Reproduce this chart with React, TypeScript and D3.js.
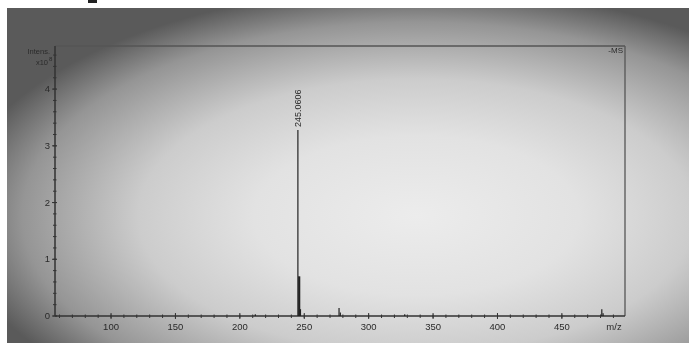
import React from "react";
import * as d3 from "d3";

const peakMz = [245.0606, 246.06, 247.06, 277.0, 278.0, 481.0, 482.0, 212.0, 328.0];
const peakIntensity = [3.28, 0.7, 0.12, 0.14, 0.06, 0.12, 0.05, 0.03, 0.03];
const xTicks = [100, 150, 200, 250, 300, 350, 400, 450];
const yTicks = [0, 1, 2, 3, 4];
const labelMz = "245.0606";

export default function App() {
  const W = 689, H = 345;
  const left = 55, right = 625, top = 46, bottom = 316;
  const x = d3.scaleLinear().domain([56.5, 499]).range([left, right]);
  const y = d3.scaleLinear().domain([0, 4.76]).range([bottom, top]);
  const xMinor = d3.range(60, 500, 10);
  const yMinor = d3.range(0, 4.7, 0.2);
  const txt = "#2a2a2a";
  const font = "Liberation Sans, Arial, sans-serif";
  return (
    <svg width={W} height={H} style={{ position: "absolute", left: 0, top: 0 }}>
      <defs>
        <radialGradient id="vig" cx="0.6" cy="0.62" r="0.68">
          <stop offset="0" stopColor="#ececec" />
          <stop offset="0.35" stopColor="#e2e2e2" />
          <stop offset="0.6" stopColor="#cccccc" />
          <stop offset="0.85" stopColor="#959595" />
          <stop offset="1" stopColor="#5a5a5a" />
        </radialGradient>
        <filter id="blur"><feGaussianBlur stdDeviation="0.5" /></filter>
      </defs>
      <rect x={0} y={0} width={W} height={H} fill="#ffffff" />
      <rect x={7} y={8} width={W - 7} height={335} fill="url(#vig)" />
      <rect x={88} y={0} width={9} height={3} fill="#222" />
      <g filter="url(#blur)">
        {/* frame */}
        <line x1={left} y1={top} x2={right} y2={top} stroke="#555" strokeWidth={1.3} />
        <line x1={right} y1={top} x2={right} y2={bottom} stroke="#555" strokeWidth={1.3} />
        <line x1={left} y1={top} x2={left} y2={bottom} stroke="#333" strokeWidth={1.5} />
        <line x1={left} y1={bottom} x2={right} y2={bottom} stroke="#333" strokeWidth={1.6} />
        {/* x ticks */}
        {xMinor.map((v) => (
          <line key={"xm" + v} x1={x(v)} x2={x(v)} y1={bottom - 1.5} y2={bottom + 2} stroke="#333" strokeWidth={1} />
        ))}
        {xTicks.map((v) => (
          <g key={"xt" + v}>
            <line x1={x(v)} x2={x(v)} y1={bottom - 3} y2={bottom + 3} stroke="#333" strokeWidth={1} />
            <text x={x(v)} y={bottom + 14} textAnchor="middle" fontSize={9.5} fontFamily={font} fill={txt}>{v}</text>
          </g>
        ))}
        <text x={614} y={bottom + 14} textAnchor="middle" fontSize={9.5} fontFamily={font} fill={txt}>m/z</text>
        {/* y ticks */}
        {yMinor.map((v, i) => (
          <line key={"ym" + i} x1={left - 2} x2={left + 1.5} y1={y(v)} y2={y(v)} stroke="#333" strokeWidth={1} />
        ))}
        {yTicks.map((v) => (
          <g key={"yt" + v}>
            <line x1={left - 3} x2={left + 2} y1={y(v)} y2={y(v)} stroke="#333" strokeWidth={1} />
            <text x={left - 5} y={y(v) + 3} textAnchor="end" fontSize={9.5} fontFamily={font} fill={txt}>{v}</text>
          </g>
        ))}
        <text x={50} y={54} textAnchor="end" fontSize={7.5} fontFamily={font} fill={txt}>Intens.</text>
        <text x={48} y={65} textAnchor="end" fontSize={7.5} fontFamily={font} fill={txt}>x10</text>
        <text x={49} y={61} textAnchor="start" fontSize={6} fontFamily={font} fill={txt}>8</text>
        <text x={623} y={53} textAnchor="end" fontSize={8} fontFamily={font} fill={txt}>-MS</text>
        {/* peaks */}
        {peakMz.map((m, i) => (
          <line key={"p" + i} x1={x(m)} x2={x(m)} y1={bottom} y2={y(peakIntensity[i])}
            stroke="#222" strokeWidth={i === 1 ? 2.2 : 1.2} />
        ))}
        <text transform={`translate(${x(peakMz[0]) + 3},${y(peakIntensity[0]) - 3}) rotate(-90)`}
          fontSize={9} fontFamily={font} fill={txt}>{labelMz}</text>
      </g>
    </svg>
  );
}
